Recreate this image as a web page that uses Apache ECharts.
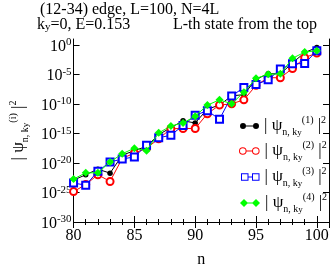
<!DOCTYPE html>
<html><head><meta charset="utf-8">
<script src="https://cdn.jsdelivr.net/npm/echarts@6/dist/echarts.min.js"></script>
<style>html,body{margin:0;padding:0;background:#fff}#c{width:332px;height:273px}</style>
</head><body><div id="c"></div>
<script>
const n = [80,81,82,83,84,85,86,87,88,89,90,91,92,93,94,95,96,97,98,99,100];
// |psi_{n,ky}^{(i)}|^2, i = 1..4
const psi1 = [1.26e-23,1e-22,8.9e-22,1.9e-22,2e-19,1.26e-18,6.3e-18,6.3e-16,9.8e-15,1.38e-13,6e-14,1.32e-11,6.3e-11,2.3e-9,3.8e-9,1.5e-6,1.32e-5,1.26e-5,8.9e-4,0.05,0.36];
const psi2 = [1.4e-25,2.2e-24,1.02e-22,7.4e-24,6e-20,4.6e-19,3.2e-18,1.26e-16,6.3e-15,6.9e-15,6.9e-15,2.2e-12,6.3e-11,1.05e-10,4.9e-10,1.4e-7,2.75e-6,2.75e-6,1e-4,6.9e-3,0.042];
const psi3 = [4e-24,1.74e-24,3.9e-22,1.45e-20,4.7e-20,1.07e-19,1e-17,1.86e-16,4.9e-16,2.24e-14,1.2e-12,7.2e-12,2.5e-13,2.3e-9,5.9e-8,2e-7,1.2e-6,7.9e-5,6.2e-4,6.9e-4,0.107];
const psi4 = [1.9e-23,2.14e-22,2.14e-22,1.45e-20,3.6e-19,3.2e-18,1.2e-18,1.26e-15,1.8e-14,6e-14,8.3e-13,6.3e-11,4.9e-10,1.05e-10,9.8e-9,2.14e-6,1.05e-5,1.26e-5,5.4e-3,0.06,0.107];
const seriesIdx = ['1','2','3','4'];
const xTickLabels = ['80','85','90','95','100'];
const yTickValues = [1e-30,1e-25,1e-20,1e-15,1e-10,1e-5,1];
const title1 = '(12-34) edge, L=100, N=4L';
const title2 = 'L-th state from the top';

const FONT = 'Liberation Serif';
const chart = echarts.init(document.getElementById('c'), null, {renderer:'canvas'});

const nameRich = {
  b:{fontFamily:FONT,fontSize:17,color:'#000',lineHeight:22},
  s:{fontFamily:FONT,fontSize:10,color:'#000',lineHeight:10,verticalAlign:'bottom'},
  ss:{fontFamily:FONT,fontSize:9,color:'#000',lineHeight:2,verticalAlign:'bottom'},
  p:{fontFamily:FONT,fontSize:10,color:'#000',lineHeight:10,verticalAlign:'top'}
};
function psiLabel(sup){ return '{b|| ψ}{s|n, k}{ss|y}{p|(' + sup + ')}{b| |}{p|2}'; }

const colors = ['#000000','#ff0000','#0000ff','#00ff00'];
const symbols = ['circle','emptyCircle','emptyRect','diamond'];
const sizes = [5.5,7,7,8];
const datas = [psi1,psi2,psi3,psi4];
const icons = [
  'path://M0,3A3,3 0 1,1 6,3A3,3 0 1,1 0,3ZM13,3A3,3 0 1,1 19,3A3,3 0 1,1 13,3ZM3,2.5L16,2.5L16,3.5L3,3.5Z',
  'path://M0,3.8A3.8,3.8 0 1,1 7.6,3.8A3.8,3.8 0 1,1 0,3.8ZM1,3.8A2.8,2.8 0 1,0 6.6,3.8A2.8,2.8 0 1,0 1,3.8ZM13,3.8A3.8,3.8 0 1,1 20.6,3.8A3.8,3.8 0 1,1 13,3.8ZM14,3.8A2.8,2.8 0 1,0 19.6,3.8A2.8,2.8 0 1,0 14,3.8ZM7.4,3.3L13.2,3.3L13.2,4.3L7.4,4.3Z',
  'path://M0,0L7.5,0L7.5,7.5L0,7.5ZM1,1L1,6.5L6.5,6.5L6.5,1ZM11,0L18.5,0L18.5,7.5L11,7.5ZM12,1L12,6.5L17.5,6.5L17.5,1ZM7.5,3.25L11,3.25L11,4.25L7.5,4.25Z',
  'path://M0,4L4,0L8,4L4,8ZM12,4L16,0L20,4L16,8ZM4,3.5L16,3.5L16,4.5L4,4.5Z'
];
const iconW = [19,20.6,18.5,20];
const iconH = [6,7.6,7.5,8];
const legendTop = [126,151,177,203];
const legendLeft = [240,239,241,240];

const series = datas.map((d,k)=>({
  name: 's'+seriesIdx[k], type:'line', data: n.map((x,i)=>[x,d[i]]),
  symbol: symbols[k], symbolSize: sizes[k], showSymbol:true,
  lineStyle:{color:colors[k],width:1}, itemStyle:{color:colors[k],borderWidth:1},
  z: 2+k, animation:false
}));

const legends = datas.map((d,k)=>({
  data:[{name:'s'+seriesIdx[k], icon: icons[k]}],
  left: legendLeft[k], top: legendTop[k]-11, orient:'vertical', padding:0,
  itemWidth: iconW[k], itemHeight: iconH[k], itemGap:0,
  itemStyle:{borderWidth:0}, lineStyle:{width:0},
  formatter: ()=>psiLabel(seriesIdx[k]),
  textStyle:{fontFamily:FONT, color:'#000', rich:nameRich},
  selectedMode:false
}));

const axisCommon = {
  axisLine:{show:true,lineStyle:{color:'#000',width:1}},
  splitLine:{show:false}
};
const xBase = Object.assign({}, axisCommon, {
  type:'value', min:80, max:101, interval:5,
  axisTick:{show:true,inside:true,length:6,lineStyle:{color:'#000'}},
  minorTick:{show:true,splitNumber:5,length:3,lineStyle:{color:'#000'}},
  minorSplitLine:{show:false}
});
const yBase = Object.assign({}, axisCommon, {
  type:'log', logBase:10, min:1e-30, max:10,
  axisTick:{show:true,inside:true,length:6,lineStyle:{color:'#000'},customValues:yTickValues},
  minorTick:{show:false}
});

const option = {
  animation:false,
  backgroundColor:'#fff',
  title:[
    {text:title1, left:40, top:2, padding:0, textStyle:{fontFamily:FONT,fontSize:16,fontWeight:'normal',color:'#000'}},
    {text:'{a|k}{b|y}{a|=0, E=0.153}', left:37, top:17, padding:0,
      textStyle:{fontFamily:FONT,fontSize:16,fontWeight:'normal',color:'#000',
        rich:{a:{fontFamily:FONT,fontSize:16,color:'#000',lineHeight:16},
              b:{fontFamily:FONT,fontSize:11,color:'#000',lineHeight:6,verticalAlign:'bottom'}}}},
    {text:title2, left:173, top:17, padding:0, textStyle:{fontFamily:FONT,fontSize:16,fontWeight:'normal',color:'#000'}}
  ],
  grid:{left:62,right:1,top:39,bottom:36,containLabel:false},
  legend: legends,
  xAxis:[
    Object.assign({}, xBase, {position:'bottom',
      name:'n', nameLocation:'middle', nameGap:30,
      nameTextStyle:{fontFamily:FONT,fontSize:16,color:'#000'},
      axisLabel:{show:true,fontFamily:FONT,fontSize:16,color:'#000',margin:6,
        formatter:(v)=> xTickLabels.indexOf(String(v))>=0 ? String(v) : ''}}),
    Object.assign({}, xBase, {position:'top', axisLabel:{show:false}})
  ],
  yAxis:[
    Object.assign({}, yBase, {position:'left',
      name: psiLabel('i'), nameLocation:'middle', nameRotate:90, nameGap:40,
      nameTextStyle:{fontFamily:FONT,color:'#000',rich:nameRich},
      axisLabel:{show:true,margin:2,padding:[0,0,5,0],customValues:yTickValues,
        formatter:(v)=>'{b|10}{s|'+String(Math.round(Math.log10(v)))+'}',
        rich:{b:{fontFamily:FONT,fontSize:16,color:'#000',lineHeight:6,verticalAlign:'bottom'},
              s:{fontFamily:FONT,fontSize:11,color:'#000',lineHeight:24}}}}),
    Object.assign({}, yBase, {position:'right', axisLabel:{show:false}})
  ],
  series: series
};
chart.setOption(option);
</script></body></html>
